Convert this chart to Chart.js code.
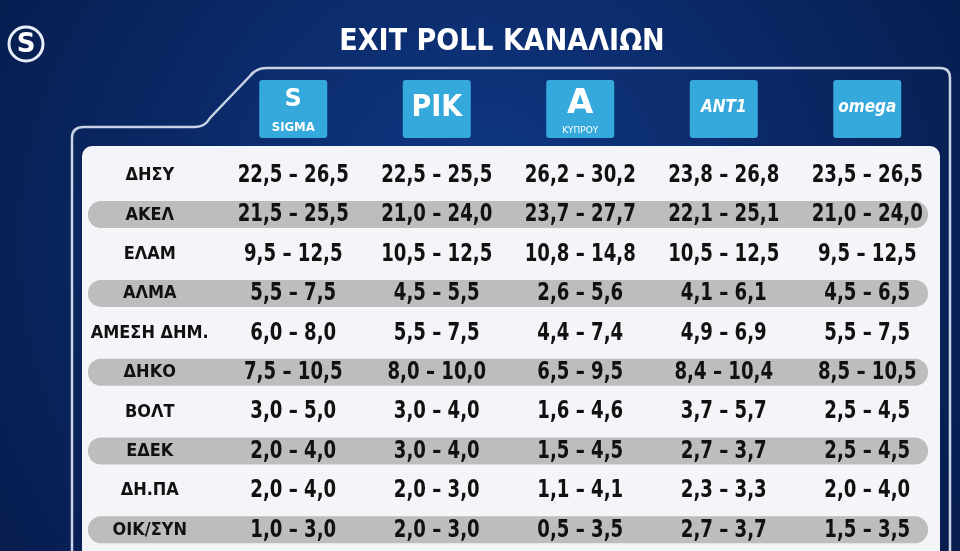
<!DOCTYPE html>
<html><head><meta charset="utf-8">
<script src="https://cdn.jsdelivr.net/npm/chart.js@4"></script>
<style>html,body{margin:0;padding:0;background:#0a2a6a;}#c{display:block;}</style>
</head><body>
<div style="width:960px;height:551px"><canvas id="c"></canvas></div>
<script>
// Κόμματα και κανάλια
const parties = ['ΔΗΣΥ','ΑΚΕΛ','ΕΛΑΜ','ΑΛΜΑ','ΑΜΕΣΗ ΔΗΜ.','ΔΗΚΟ','ΒΟΛΤ','ΕΔΕΚ','ΔΗ.ΠΑ','ΟΙΚ/ΣΥΝ'];
const channels = ['SIGMA','ΡΙΚ','ALPHA','ANT1','OMEGA'];
const logoText = ['SIGMA','ΡΙΚ','Α','ANT1','omega'];

// Εύρος ποσοστών (χαμηλό / υψηλό) ανά κανάλι
const sigmaLow  = [22.5,21.5, 9.5,5.5,6.0, 7.5,3.0,2.0,2.0,1.0];
const sigmaHigh = [26.5,25.5,12.5,7.5,8.0,10.5,5.0,4.0,4.0,3.0];
const rikLow    = [22.5,21.0,10.5,4.5,5.5, 8.0,3.0,3.0,2.0,2.0];
const rikHigh   = [25.5,24.0,12.5,5.5,7.5,10.0,4.0,4.0,3.0,3.0];
const alphaLow  = [26.2,23.7,10.8,2.6,4.4, 6.5,1.6,1.5,1.1,0.5];
const alphaHigh = [30.2,27.7,14.8,5.6,7.4, 9.5,4.6,4.5,4.1,3.5];
const antLow    = [23.8,22.1,10.5,4.1,4.9, 8.4,3.7,2.7,2.3,2.7];
const antHigh   = [26.8,25.1,12.5,6.1,6.9,10.4,5.7,3.7,3.3,3.7];
const omegaLow  = [23.5,21.0, 9.5,4.5,5.5, 8.5,2.5,2.5,2.0,1.5];
const omegaHigh = [26.5,24.0,12.5,6.5,7.5,10.5,4.5,4.5,4.0,3.5];

const lows  = [sigmaLow, rikLow, alphaLow, antLow, omegaLow];
const highs = [sigmaHigh, rikHigh, alphaHigh, antHigh, omegaHigh];

const fmt = v => v.toFixed(1).replace('.', ',');
const cols = [''].concat(channels);

function rr(ctx, x, y, w, h, r) {
  ctx.beginPath();
  ctx.roundRect(x, y, w, h, r);
}

// κείμενο στενεμένο οριζόντια
function narrowText(ctx, txt, x, y, sx) {
  ctx.save();
  ctx.translate(x, y);
  ctx.scale(sx, 1);
  ctx.fillText(txt, 0, 0);
  ctx.restore();
}

const tablePlugin = {
  id: 'table',
  beforeDraw(chart) {
    const ctx = chart.ctx, W = chart.width, H = chart.height;
    const xs = chart.scales.x, ys = chart.scales.y;
    ctx.save();
    // φόντο
    const g = ctx.createRadialGradient(W * 0.5, H * 0.35, 40, W * 0.5, H * 0.5, 700);
    g.addColorStop(0, '#0f3680');
    g.addColorStop(1, '#051642');
    ctx.fillStyle = g;
    ctx.fillRect(0, 0, W, H);
    // τίτλος
    ctx.fillStyle = '#ffffff';
    ctx.font = 'bold 30px "DejaVu Sans Condensed", "DejaVu Sans"';
    ctx.textAlign = 'center';
    ctx.textBaseline = 'middle';
    ctx.fillText('EXIT POLL ΚΑΝΑΛΙΩΝ', 502, 42);
    // λογότυπο πάνω αριστερά
    ctx.strokeStyle = '#e8eef8';
    ctx.lineWidth = 3;
    ctx.beginPath(); ctx.arc(26, 44, 17, 0, Math.PI * 2); ctx.stroke();
    ctx.font = 'bold 26px "DejaVu Sans"';
    ctx.fillText('S', 26, 45);
    // περίγραμμα πλαισίου
    ctx.strokeStyle = '#c9d3e6';
    ctx.lineWidth = 2.5;
    ctx.beginPath();
    ctx.moveTo(72, 551);
    ctx.lineTo(72, 138);
    ctx.quadraticCurveTo(72, 127, 84, 127);
    ctx.lineTo(195, 127);
    ctx.quadraticCurveTo(205, 127, 210, 118);
    ctx.lineTo(250, 76);
    ctx.quadraticCurveTo(256, 68, 266, 68);
    ctx.lineTo(940, 68);
    ctx.quadraticCurveTo(950, 68, 950, 78);
    ctx.lineTo(950, 551);
    ctx.stroke();
    // λογότυπα καναλιών
    channels.forEach((c, i) => {
      const cx = xs.getPixelForValue(i + 1);
      ctx.fillStyle = '#35a8dc';
      rr(ctx, cx - 34, 80, 68, 58, 3); ctx.fill();
      ctx.fillStyle = '#ffffff';
      ctx.font = i === 2 ? 'bold 34px "DejaVu Sans"' : 'bold italic 17px "DejaVu Sans Condensed", "DejaVu Sans"';
      if (i === 0) {
        ctx.font = 'bold 24px "DejaVu Sans"';
        ctx.fillText('S', cx, 100);
        ctx.font = 'bold 13px "DejaVu Sans Condensed", "DejaVu Sans"';
        ctx.fillText('SIGMA', cx, 128);
      } else if (i === 1) {
        ctx.font = 'bold 30px "DejaVu Sans Condensed", "DejaVu Sans"';
        ctx.fillText('ΡΙΚ', cx, 108);
      } else if (i === 2) {
        ctx.fillText('Α', cx, 104);
        ctx.font = '9px "DejaVu Sans"';
        ctx.fillText('ΚΥΠΡΟΥ', cx, 131);
      } else {
        ctx.fillText(logoText[i], cx, 108);
      }
    });
    // λευκό πλαίσιο
    ctx.fillStyle = '#f4f5f8';
    rr(ctx, 82, 146, 858, 420, 10); ctx.fill();
    // γκρι ζώνες
    ctx.fillStyle = '#bdbdbd';
    parties.forEach((p, j) => {
      if (j % 2 === 1) {
        const cy = ys.getPixelForValue(j);
        rr(ctx, 88, cy - 13, 840, 27, 13); ctx.fill();
      }
    });
    ctx.restore();
  },
  afterDraw(chart) {
    const ctx = chart.ctx, xs = chart.scales.x, ys = chart.scales.y;
    ctx.save();
    ctx.fillStyle = '#111111';
    ctx.textAlign = 'center';
    ctx.textBaseline = 'middle';
    parties.forEach((p, j) => {
      const cy = ys.getPixelForValue(j) + 1;
      ctx.font = 'bold 17px "DejaVu Sans"';
      narrowText(ctx, p, xs.getPixelForValue(0), cy, 0.95);
      ctx.font = 'bold 24px "DejaVu Sans Condensed", "DejaVu Sans"';
      channels.forEach((c, i) => {
        narrowText(ctx, fmt(lows[i][j]) + ' – ' + fmt(highs[i][j]), xs.getPixelForValue(i + 1), cy, 0.84);
      });
    });
    ctx.restore();
  }
};

new Chart(document.getElementById('c'), {
  type: 'bar',
  data: { labels: cols, datasets: [] },
  options: {
    responsive: true,
    maintainAspectRatio: false,
    animation: false,
    layout: { padding: { left: 78, right: 21, top: 155, bottom: 2 } },
    plugins: { legend: { display: false }, tooltip: { enabled: false } },
    scales: {
      x: { type: 'category', labels: cols, offset: true, display: false },
      y: { type: 'category', labels: parties, offset: true, display: false }
    }
  },
  plugins: [tablePlugin]
});
</script>
</body></html>
